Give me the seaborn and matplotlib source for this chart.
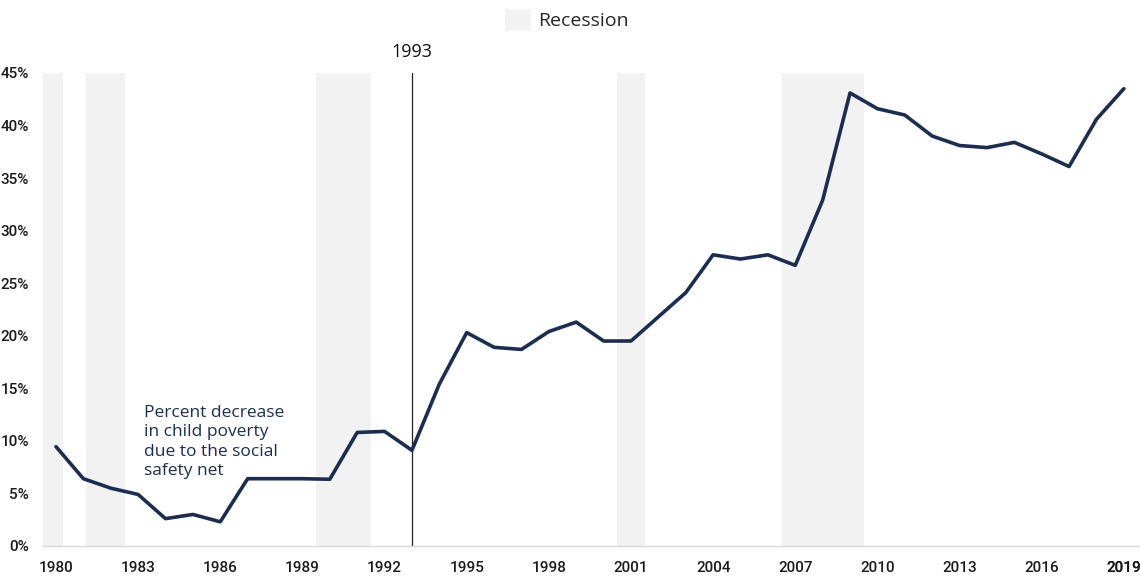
import pandas as pd
import matplotlib.pyplot as plt
import seaborn as sns
from matplotlib.patches import Patch
from matplotlib.ticker import FuncFormatter

# data
years = list(range(1980, 2020))
pct_decrease = [9.45, 6.4, 5.5, 4.9, 2.6, 3.0, 2.3, 6.4, 6.4, 6.4,
                6.35, 10.8, 10.9, 9.1, 15.4, 20.3, 18.9, 18.7, 20.4, 21.3,
                19.5, 19.5, 21.8, 24.1, 27.7, 27.3, 27.7, 26.7, 32.9, 43.1,
                41.6, 41.0, 39.0, 38.1, 37.9, 38.4, 37.3, 36.1, 40.6, 43.5]
recession_start = [1979.53, 1981.1, 1989.5, 2000.5, 2006.5]
recession_end = [1980.26, 1982.52, 1991.5, 2001.5, 2009.5]
x_ticks = list(range(1980, 2020, 3)) + [2019]
y_ticks = [0, 5, 10, 15, 20, 25, 30, 35, 40, 45]

df = pd.DataFrame({"year": years, "pct": pct_decrease})

sns.set_style("white")
plt.rcParams["font.family"] = ["Open Sans", "DejaVu Sans"]

navy = "#1c2d50"
band = "#f2f2f2"
tick_font = ["Roboto", "DejaVu Sans"]

fig = plt.figure(figsize=(11.4, 5.82), dpi=100)
ax = fig.add_axes([0.0377, 0.0619, 0.9623, 0.8127])

for s, e in zip(recession_start, recession_end):
    ax.axvspan(s, e, color=band, lw=0, zorder=0)

ax.axvline(1993, color="#222222", lw=0.9, zorder=1)

sns.lineplot(data=df, x="year", y="pct", ax=ax, color=navy, lw=2.6, zorder=3)

ax.set_xlim(1979.525, 2019.59)
ax.set_ylim(0, 45)
ax.set_xticks(x_ticks)
ax.set_yticks(y_ticks)
ax.yaxis.set_major_formatter(FuncFormatter(lambda v, p: f"{int(v)}%"))
ax.set_xlabel("")
ax.set_ylabel("")
ax.tick_params(axis="both", length=0, labelsize=11, colors="#1a1a1a")
ax.tick_params(axis="x", pad=11)
ax.tick_params(axis="y", pad=10)
for lab in ax.get_xticklabels() + ax.get_yticklabels():
    lab.set_family(tick_font)
    lab.set_weight("medium")

for side in ["top", "right", "left"]:
    ax.spines[side].set_visible(False)
ax.spines["bottom"].set_color("#d9d9d9")
ax.spines["bottom"].set_linewidth(1.0)

ax.text(1993, 46.1, "1993", ha="center", va="bottom", fontsize=13, color="#111111")
ax.text(1983.2, 13.4, "Percent decrease\nin child poverty\ndue to the social\nsafety net",
        ha="left", va="top", fontsize=12.5, color=navy, linespacing=1.28)

fig.legend(handles=[Patch(facecolor=band, edgecolor="none", label="Recession")],
           loc="upper center", bbox_to_anchor=(0.497, 1.0), frameon=False,
           fontsize=14, handlelength=1.35, handleheight=1.35, handletextpad=0.35,
           borderaxespad=0.05)

fig.savefig("out.png", dpi=100)
